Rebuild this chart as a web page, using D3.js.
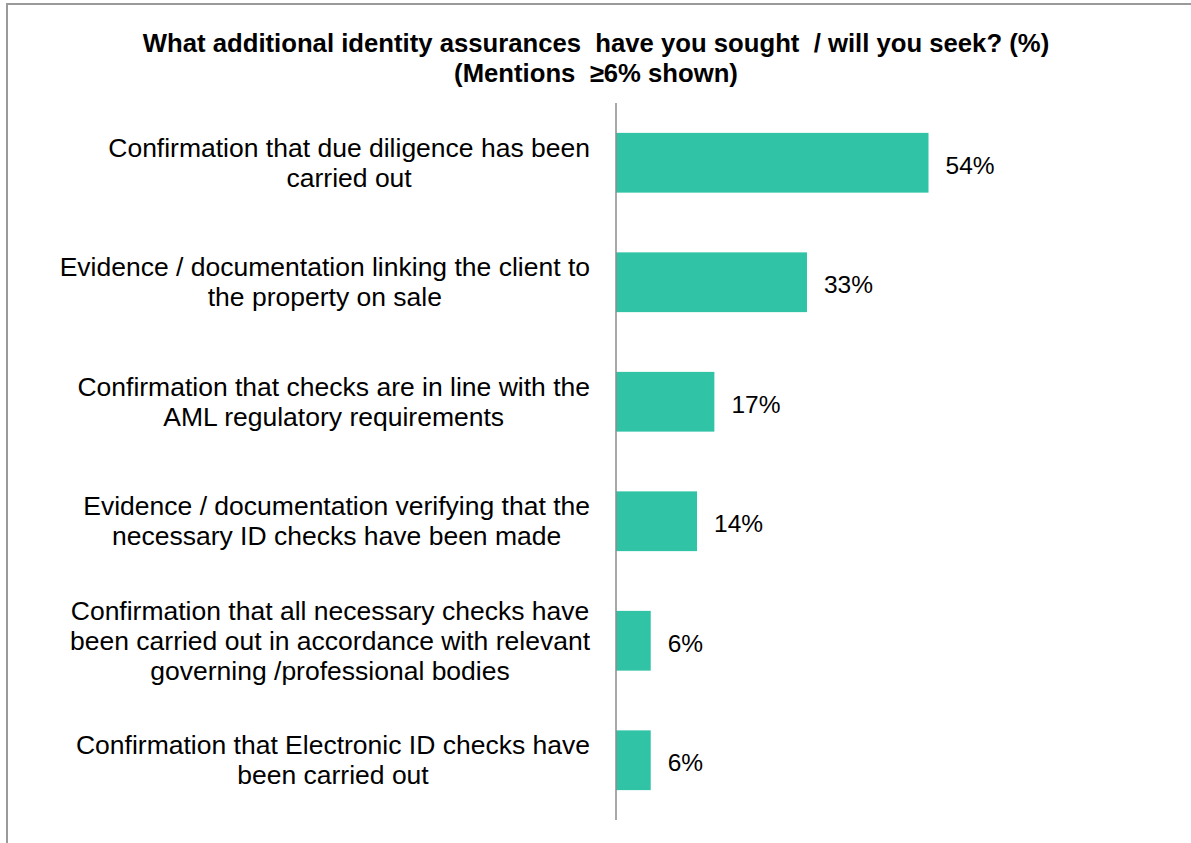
<!DOCTYPE html>
<html>
<head>
<meta charset="utf-8">
<script src="https://cdn.jsdelivr.net/npm/d3@7"></script>
<style>
  html, body { margin: 0; padding: 0; background: #fff; }
  svg { display: block; }
  text { font-family: "Liberation Sans", Arial, sans-serif; fill: #000; }
</style>
</head>
<body>
<svg id="chart" width="1191" height="843"></svg>
<script>
// Survey answers, one entry per bar (label lines as shown on the axis)
const categories = [
  ["Confirmation that due diligence has been", "carried out"],
  ["Evidence / documentation linking the client to", "the property on sale"],
  ["Confirmation that checks are in line with the", "AML regulatory requirements"],
  ["Evidence / documentation verifying that the", "necessary ID checks have been made"],
  ["Confirmation that all necessary checks have", "been carried out in accordance with relevant", "governing /professional bodies"],
  ["Confirmation that Electronic ID checks have", "been carried out"]
];
const values = [54, 33, 17, 14, 6, 6];
const valueLabels = ["54%", "33%", "17%", "14%", "6%", "6%"];
const titleLines = [
  "What additional identity assurances  have you sought  / will you seek? (%)",
  "(Mentions  \u22656% shown)"
];

const svg = d3.select("#chart");
const W = 1191, H = 843;

// Frame (left and top edges visible)
svg.append("rect")
  .attr("x", 7).attr("y", 4)
  .attr("width", W + 20).attr("height", H + 20)
  .attr("fill", "none")
  .attr("stroke", "#9a9a9a")
  .attr("stroke-width", 2);

// Title
svg.append("g")
  .selectAll("text")
  .data(titleLines)
  .join("text")
  .attr("x", 596)
  .attr("y", (d, i) => 52 + i * 30)
  .attr("text-anchor", "middle")
  .attr("font-size", 25.7)
  .attr("font-weight", "bold")
  .style("white-space", "pre")
  .attr("xml:space", "preserve")
  .text(d => d);

// Scales
const axisX = 616;
const x = d3.scaleLinear().domain([0, 54]).range([axisX, 928.5]);
const y = d3.scaleBand()
  .domain(d3.range(values.length))
  .range([103, 820])
  .paddingInner(0.5)
  .paddingOuter(0.25);

// Bars
svg.append("g")
  .selectAll("rect")
  .data(values)
  .join("rect")
  .attr("x", x(0))
  .attr("y", (d, i) => y(i))
  .attr("width", d => x(d) - x(0))
  .attr("height", y.bandwidth())
  .attr("fill", "#30C3A6");

// Value labels
svg.append("g")
  .selectAll("text")
  .data(values)
  .join("text")
  .attr("x", d => x(d) + 17)
  .attr("y", (d, i) => y(i) + y.bandwidth() / 2 + 11)
  .attr("font-size", 24.5)
  .text((d, i) => valueLabels[i]);

// Vertical category axis line
svg.append("line")
  .attr("x1", axisX).attr("x2", axisX)
  .attr("y1", 103).attr("y2", 820)
  .attr("stroke", "#8c8c8c")
  .attr("stroke-width", 1.5);

// Category labels: block right-aligned to the axis, lines centred within the block
const labelRight = 590;
const lineH = 30;
const labelG = svg.append("g");
categories.forEach((lines, i) => {
  const cy = y(i) + y.bandwidth() / 2;
  const g = labelG.append("g");
  const texts = g.selectAll("text")
    .data(lines)
    .join("text")
    .attr("font-size", 26.5)
    .attr("text-anchor", "middle")
    .attr("y", (d, j) => cy + (j - (lines.length - 1) / 2) * lineH + 9)
    .text(d => d);
  let maxW = 0;
  texts.each(function () { maxW = Math.max(maxW, this.getComputedTextLength()); });
  texts.attr("x", labelRight - maxW / 2);
});
</script>
</body>
</html>
